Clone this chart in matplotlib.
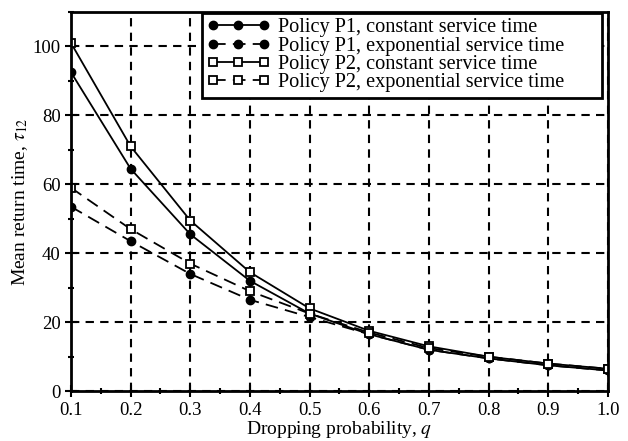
import matplotlib
matplotlib.use("Agg")
import matplotlib.pyplot as plt
from matplotlib.ticker import MultipleLocator

q = [0.1, 0.2, 0.3, 0.4, 0.5, 0.6, 0.7, 0.8, 0.9, 1.0]
p1_const = [92.5, 64.5, 45.5, 32, 22.5, 16.5, 12, 9.5, 7.5, 6]
p1_exp = [53.5, 43.5, 34, 26.5, 21.5, 16.5, 12, 9.5, 7.5, 6]
p2_const = [101, 71, 49.5, 34.5, 24, 17.5, 13, 10, 8, 6.5]
p2_exp = [59, 47, 37, 29, 22.5, 17, 12.5, 10, 8, 6.5]

plt.rcParams['font.family'] = ['Liberation Serif', 'DejaVu Serif']
plt.rcParams['mathtext.fontset'] = 'stix'

fig = plt.figure(figsize=(6.28, 4.41), dpi=100)
ax = fig.add_axes([0.113, 0.113, 0.855, 0.86])

ms = 6
ax.plot(q, p1_const, '-o', color='black', lw=1.3, ms=ms, label='Policy P1, constant service time')
ax.plot(q, p1_exp, '--o', color='black', lw=1.3, ms=ms, dashes=(7, 4), label='Policy P1, exponential service time')
ax.plot(q, p2_const, '-s', color='black', lw=1.3, ms=ms, mfc='white', mew=1.3, label='Policy P2, constant service time')
ax.plot(q, p2_exp, '--s', color='black', lw=1.3, ms=ms, mfc='white', mew=1.3, dashes=(7, 4), label='Policy P2, exponential service time')

ax.set_xlim(0.1, 1.0)
ax.set_ylim(0, 110)
ax.xaxis.set_major_locator(MultipleLocator(0.1))
ax.xaxis.set_minor_locator(MultipleLocator(0.05))
ax.yaxis.set_major_locator(MultipleLocator(20))
ax.yaxis.set_minor_locator(MultipleLocator(10))
ax.set_xticklabels([f"{v:.1f}" for v in ax.get_xticks()])
ax.tick_params(which='both', direction='inout', labelsize=13.5, width=1.5)
ax.tick_params(which='major', length=8)
ax.tick_params(which='minor', length=5)
ax.grid(True, which='major', color='black', linestyle=(0, (4, 3)), lw=1.5)
for s in ax.spines.values():
    s.set_linewidth(2)

ax.set_xlabel('Dropping probability, $q$', fontsize=14, labelpad=0)
ax.set_ylabel(r'Mean return time, $\tau_{12}$', fontsize=14, labelpad=2)

leg = ax.legend(loc='upper left', bbox_to_anchor=(0.244, 0.78, 0.745, 0.217), mode='expand',
                fontsize=14.6, fancybox=False, framealpha=1,
                edgecolor='black', borderpad=0.25, labelspacing=-0.04, numpoints=3,
                handlelength=3.1, handletextpad=0.4, borderaxespad=0.0)
leg.get_frame().set_linewidth(2)

fig.savefig("out.png", dpi=100)
